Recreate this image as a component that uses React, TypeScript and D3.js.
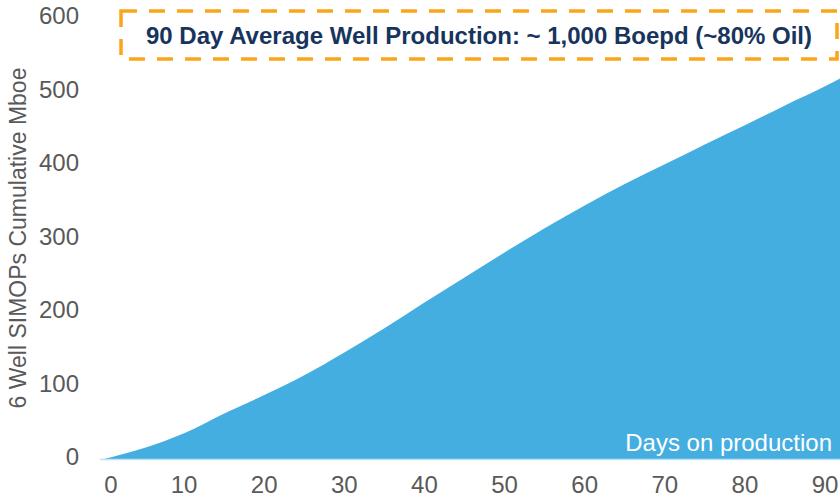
import React from "react";
import * as d3 from "d3";

const days = [0, 5, 10, 15, 20, 25, 30, 35, 40, 45, 50, 55, 60, 65, 70, 75, 80, 85, 90, 91.9];
const cumMboe = [0, 15, 35, 62, 87, 114, 145, 178, 213, 247, 281, 314, 345, 374, 401, 428, 454, 481, 507, 518];
const xTicks = [0, 10, 20, 30, 40, 50, 60, 70, 80, 90];
const yTicks = [0, 100, 200, 300, 400, 500, 600];
const titleText = "90 Day Average Well Production: ~ 1,000 Boepd (~80% Oil)";
const yLabel = "6 Well SIMOPs Cumulative Mboe";
const xLabel = "Days on production";

export default function App() {
  const W = 840, H = 499;
  const x = d3.scaleLinear().domain([0, 90]).range([104, 825]);
  const y = d3.scaleLinear().domain([0, 600]).range([459, 18]);
  const data = days.map((d, i) => ({ d, v: cumMboe[i] }));
  const area = d3.area<{ d: number; v: number }>()
    .x((p) => x(p.d))
    .y0(y(0))
    .y1((p) => y(p.v))
    .curve(d3.curveMonotoneX);
  const font = "Arial, 'Liberation Sans', sans-serif";
  return (
    <svg width={W} height={H} style={{ position: "absolute", left: 0, top: 0 }} fontFamily={font}>
      <rect width={W} height={H} fill="#fff" />
      <path d={area(data) || ""} fill="#45AEE1" />
      <line x1={x(0) - 4} x2={W} y1={y(0) + 0.5} y2={y(0) + 0.5} stroke="#BFE1F4" strokeWidth={1.5} />
      {yTicks.map((t) => (
        <text key={t} x={79} y={y(t)} textAnchor="end" dominantBaseline="middle" fontSize={24} fill="#595959">
          {t}
        </text>
      ))}
      {xTicks.map((t) => (
        <text key={t} x={x(t) + (t === 0 ? 7 : 0)} y={487} textAnchor="middle" dominantBaseline="middle" fontSize={24} fill="#595959">
          {t}
        </text>
      ))}
      <text transform={`translate(26,238) rotate(-90)`} textAnchor="middle" fontSize={23} fill="#595959">
        {yLabel}
      </text>
      <text x={832} y={451} textAnchor="end" fontSize={24} fill="#fff">
        {xLabel}
      </text>
      <rect x={121} y={11} width={716} height={48} fill="#fff" stroke="#F9A61A" strokeWidth={3.5} strokeDasharray="16 12" />
      <text x={479} y={44} textAnchor="middle" fontSize={24} fontWeight="bold" fill="#17345C">
        {titleText}
      </text>
    </svg>
  );
}
